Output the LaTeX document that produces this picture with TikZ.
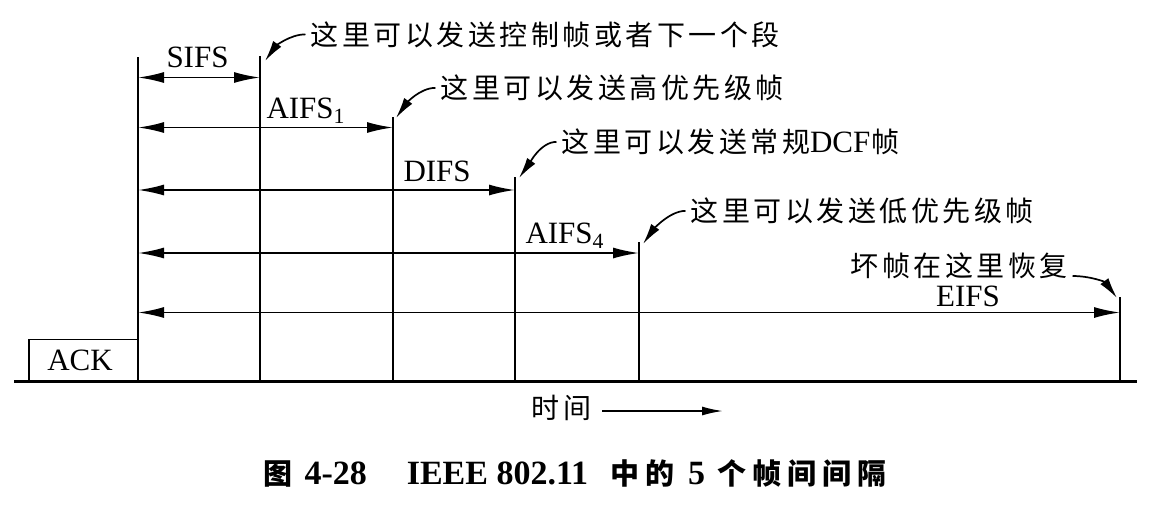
\documentclass[tikz,border=0pt]{standalone}
\usepackage{fontspec}
\setmainfont{Liberation Serif}
% CJK text with a little extra tracking between the characters
\newfontfamily\cjk[LetterSpace=12.5]{Noto Sans CJK SC}
\newfontfamily\cjkcap[LetterSpace=20.7,BoldFeatures={LetterSpace=20.7}]{Noto Sans CJK SC}
\usetikzlibrary{arrows.meta}

\begin{document}
\begin{tikzpicture}[x=1pt,y=-1pt,
  every node/.style={inner sep=0pt, outer sep=0pt},
  tickline/.style={line width=1.4pt},
  ground/.style={line width=2.2pt},
  span/.style={line width=1.8pt, {Latex[length=26pt,width=11pt]}-{Latex[length=26pt,width=11pt]}},
  leader/.style={line width=1.7pt, -{Latex[length=21pt,width=10pt]}},
  timearrow/.style={line width=1.8pt, -{Latex[length=21pt,width=9pt]}},
  lab/.style={font=\fontsize{31}{33}\selectfont, anchor=base west},
  note/.style={font=\cjk\fontsize{28}{30}\selectfont, anchor=base west},
]
\useasboundingbox (0,0) rectangle (1161,507);

% vertical marks: tops and feet on the time axis
\coordinate (v0t) at (138,57);   \coordinate (v0b) at (138,381.5);
\coordinate (v1t) at (260,56);   \coordinate (v1b) at (260,381.5);
\coordinate (v2t) at (393,117);  \coordinate (v2b) at (393,381.5);
\coordinate (v3t) at (515,177);  \coordinate (v3b) at (515,381.5);
\coordinate (v4t) at (639,242);  \coordinate (v4b) at (639,381.5);
\coordinate (v5t) at (1120,297); \coordinate (v5b) at (1120,381.5);
\coordinate (axl) at (14,381.5); \coordinate (axr) at (1137,381.5);

% time axis and the ACK frame
\draw[ground] (axl) -- (axr);
\node[draw, line width=1.6pt, minimum width=109pt, minimum height=42pt, anchor=south west] (ackbox) at (29,381.5) {};
\node[lab, anchor=base] (ack) at (80,370) {ACK};

\foreach \i in {0,...,5} \draw[tickline] (v\i t) -- (v\i b);

% interval spans
\coordinate (s0a) at (138,77.5);  \coordinate (s0b) at (260,77.5);
\coordinate (s1a) at (138,127.5); \coordinate (s1b) at (393,127.5);
\coordinate (s2a) at (138,190);   \coordinate (s2b) at (515,190);
\coordinate (s3a) at (138,253);   \coordinate (s3b) at (639,253);
\coordinate (s4a) at (138,312.5); \coordinate (s4b) at (1120,312.5);
\foreach \i in {0,...,4} \draw[span] (s\i a) -- (s\i b);

\node[lab] (lsifs)  at (166.5,67) {SIFS};
\node[lab] (laifsa) at (266.5,118) {AIFS\textsubscript{1}};
\node[lab] (ldifs)  at (403.5,181) {DIFS};
\node[lab] (laifsd) at (525.5,243) {AIFS\textsubscript{4}};
\node[lab, anchor=base] (leifs) at (968,306) {EIFS};

% remarks with their pointers
\node[note] (n1) at (310.5,45)  {这里可以发送控制帧或者下一个段};
\node[note] (n2) at (440.5,98.5) {这里可以发送高优先级帧};
\node[note] (n3) at (561.5,152.5) {这里可以发送常规{\rmfamily\fontsize{31}{33}\selectfont DCF}\hspace{1pt}帧};
\node[note] (n4) at (690.5,221.5) {这里可以发送低优先级帧};
\node[note] (n5) at (850.5,276) {坏帧在这里恢复};

\coordinate (p1) at (265,61);
\coordinate (p2) at (396,118);
\coordinate (p3) at (519,178);
\coordinate (p4) at (643,244);
\coordinate (p5) at (1117,298);

\draw[leader] ([xshift=-5pt]n1.west) .. controls +(-16,0) and +(10,-14) .. (p1);
\draw[leader] ([xshift=-5pt]n2.west) .. controls +(-16,0) and +(10,-14) .. (p2);
\draw[leader] ([xshift=-5pt]n3.west) .. controls +(-16,0) and +(10,-14) .. (p3);
\draw[leader] ([xshift=-5pt]n4.west) .. controls +(-16,0) and +(10,-14) .. (p4);
\draw[leader] ([xshift=5pt]n5.base east) .. controls +(18,0) and +(-12,-16) .. (p5);

% direction of time
\node[note] (tm) at (531.5,418.5) {时间};
\coordinate (ta) at (602,411);
\coordinate (tb) at (723,411);
\draw[timearrow] (ta) -- (tb);

% caption
\node[anchor=base west, font=\bfseries\fontsize{34}{36}\selectfont] (cap) at (263.5,484)
  {{\cjkcap\fontsize{29}{31}\selectfont 图}\hspace{12pt}4-28\hspace{40pt}IEEE 802.11\hspace{22pt}{\cjkcap\fontsize{29}{31}\selectfont 中的}\hspace{14pt}5\hspace{12pt}{\cjkcap\fontsize{29}{31}\selectfont 个帧间间隔}};
\end{tikzpicture}
\end{document}
